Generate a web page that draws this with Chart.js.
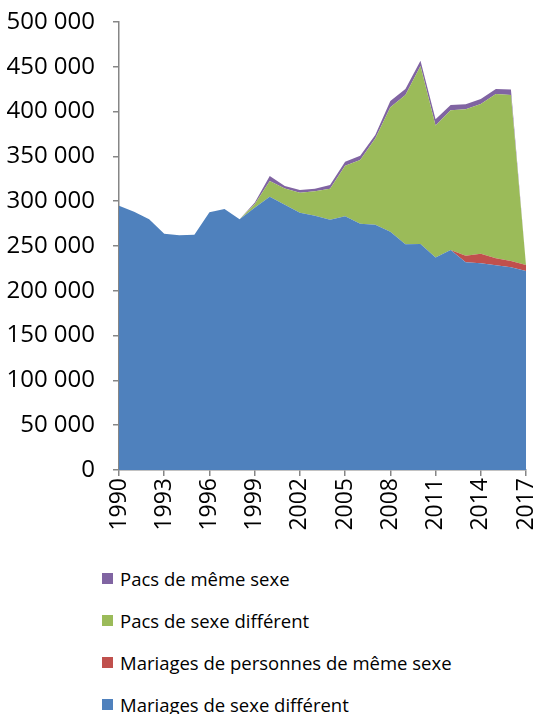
<!DOCTYPE html>
<html>
<head>
<meta charset="utf-8">
<script src="https://cdn.jsdelivr.net/npm/chart.js@4.4.1/dist/chart.umd.min.js"></script>
<style>
body{margin:0;background:#fff;font-family:'Open Sans',sans-serif;}
#wrap{position:relative;width:536px;height:545px;}
#legend{position:absolute;left:102px;top:557px;}
.row{display:flex;align-items:center;height:42px;font-size:18.5px;color:#000;}
.box{width:11px;height:11px;margin-right:7px;}
</style>
</head>
<body>
<div id="wrap"><canvas id="chart"></canvas></div>
<div id="legend"></div>
<script>
const years = ["1990","1991","1992","1993","1994","1995","1996","1997","1998","1999","2000","2001","2002","2003","2004","2005","2006","2007","2008","2009","2010","2011","2012","2013","2014","2015","2016","2017"];

const mariagesDiff = [295000,288300,279800,263700,261900,262600,287600,291300,279800,292700,305000,296100,287200,283800,279400,283300,274800,273800,266000,251900,252200,237300,245500,232000,230700,228400,226200,222100];
const mariagesMeme = [0,0,0,0,0,0,0,0,0,0,0,0,0,0,0,0,0,0,0,0,0,0,0,7200,10700,7800,7100,6700];
const pacsDiff = [0,0,0,0,0,0,0,0,0,4000,17500,18200,22300,27200,34600,56300,71200,96300,138800,166600,198700,147200,156000,163300,167100,183400,185200,0];
const pacsMeme = [0,0,0,0,0,0,0,0,0,1500,5600,2600,3000,3000,4000,4500,4800,3800,7000,6700,5900,7000,5800,5600,5500,5600,6300,0];

const seriesNames = ["Mariages de sexe différent","Mariages de personnes de même sexe","Pacs de sexe différent","Pacs de même sexe"];
const seriesColors = ["#4F81BD","#C0504D","#9BBB59","#8064A2"];

Chart.defaults.font.family = "'Open Sans', sans-serif";
Chart.defaults.color = "#000";

function fmt(v){
return String(v).replace(/\B(?=(\d{3})+(?!\d))/g," ");
}

const allData=[mariagesDiff,mariagesMeme,pacsDiff,pacsMeme];

const datasets = allData.map((d,i)=>({
label:seriesNames[i],
data:d,
backgroundColor:seriesColors[i],
borderColor:seriesColors[i],
borderWidth:0,
pointRadius:0,
tension:0,
fill:i===0?"origin":"-1"
}));

const chart = new Chart(document.getElementById("chart"),{
type:"line",
data:{labels:years,datasets},
options:{
responsive:true,
maintainAspectRatio:false,
animation:false,
layout:{padding:{top:22,right:10,left:0,bottom:0}},
plugins:{legend:{display:false},tooltip:{enabled:false}},
scales:{
x:{
stacked:true,
grid:{drawOnChartArea:false,color:"#868686",tickLength:6,lineWidth:1.5},
border:{color:"#868686",width:1.5},
ticks:{
autoSkip:false,
maxRotation:90,
minRotation:90,
padding:2,
font:{size:23},
callback:function(val,i){
return i%3===0?this.getLabelForValue(val):null;
}
},
afterFit:s=>{s.height=75;s.paddingLeft=0;s.paddingRight=0;}
},
y:{
stacked:true,
min:0,
max:500000,
grid:{drawOnChartArea:false,color:"#868686",tickLength:6,lineWidth:1.5},
border:{color:"#868686",width:1.5},
ticks:{stepSize:50000,padding:18,font:{size:24},callback:v=>fmt(v)},
afterFit:s=>{s.width=119;s.paddingTop=0;s.paddingBottom=0;}
}
}
}
});

// legend, reversed like the original
const legend=document.getElementById("legend");
for(let i=seriesNames.length-1;i>=0;i--){
legend.innerHTML+=`<div class="row"><div class="box" style="background:${seriesColors[i]}"></div>${seriesNames[i]}</div>`;
}
</script>
</body>
</html>
